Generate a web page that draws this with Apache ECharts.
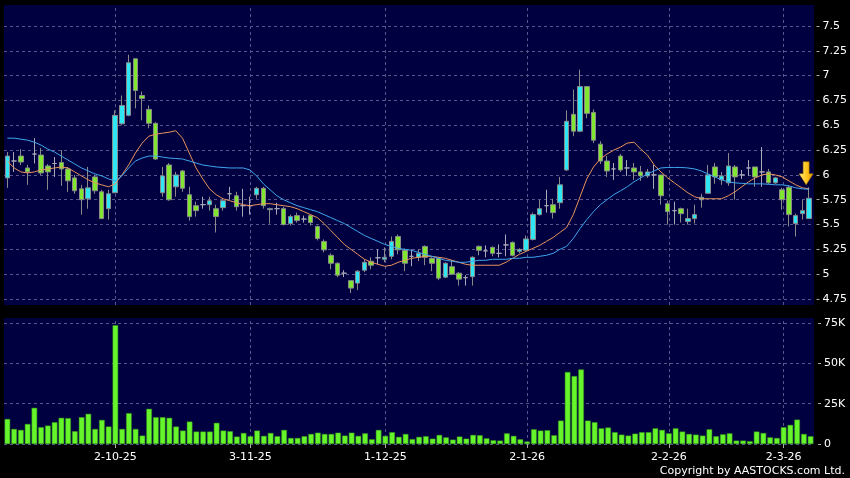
<!DOCTYPE html>
<html><head><meta charset="utf-8">
<script src="https://cdn.jsdelivr.net/npm/echarts@6/dist/echarts.min.js"></script>
<style>html,body{margin:0;padding:0;background:#000;}#c{width:850px;height:478px;}</style>
</head><body><div id="c"></div>
<script>
const dates = ['9-9-25','10-9-25','11-9-25','12-9-25','15-9-25','16-9-25','17-9-25','18-9-25','19-9-25','22-9-25','23-9-25','24-9-25','25-9-25','26-9-25','29-9-25','30-9-25',
'2-10-25','3-10-25','6-10-25','8-10-25','9-10-25','10-10-25','13-10-25','14-10-25','15-10-25','16-10-25','17-10-25','20-10-25','21-10-25','22-10-25','23-10-25','24-10-25','27-10-25','28-10-25','30-10-25','31-10-25',
'3-11-25','4-11-25','5-11-25','6-11-25','7-11-25','10-11-25','11-11-25','12-11-25','13-11-25','14-11-25','17-11-25','18-11-25','19-11-25','20-11-25','21-11-25','24-11-25','25-11-25','26-11-25','27-11-25','28-11-25',
'1-12-25','2-12-25','3-12-25','4-12-25','5-12-25','8-12-25','9-12-25','10-12-25','11-12-25','12-12-25','15-12-25','16-12-25','17-12-25','18-12-25','19-12-25','22-12-25','23-12-25','24-12-25','29-12-25','30-12-25','31-12-25',
'2-1-26','5-1-26','6-1-26','7-1-26','8-1-26','9-1-26','12-1-26','13-1-26','14-1-26','15-1-26','16-1-26','19-1-26','20-1-26','21-1-26','22-1-26','23-1-26','26-1-26','27-1-26','28-1-26','29-1-26','30-1-26',
'2-2-26','3-2-26','4-2-26','5-2-26','6-2-26','9-2-26','10-2-26','11-2-26','12-2-26','13-2-26','16-2-26','20-2-26','23-2-26','24-2-26','25-2-26','26-2-26','27-2-26',
'2-3-26','3-3-26','4-3-26','5-3-26','6-3-26'];

const open = [5.97,6.14,6.19,6.07,6.21,6.20,6.09,6.115,6.125,6.06,
 5.97,5.86,5.76,5.98,5.83,5.66,5.82,6.515,6.60,7.17,
 6.80,6.66,6.52,5.82,6.10,5.88,6.04,5.80,5.69,5.70,
 5.70,5.66,5.67,5.81,5.79,5.69,5.69,5.80,5.865,5.65,
 5.66,5.66,5.51,5.59,5.555,5.59,5.48,5.33,5.19,5.11,
 5.01,4.935,4.91,5.04,5.13,5.165,5.15,5.18,5.38,5.24,
 5.18,5.17,5.28,5.16,5.16,4.97,5.076,5.01,4.965,4.975,
 5.28,5.235,5.27,5.21,5.295,5.32,5.23,5.24,5.35,5.60,
 5.69,5.70,5.72,6.05,6.61,6.44,6.89,6.63,6.31,6.14,
 6.06,6.19,6.07,6.07,6.03,5.99,6.0,6.0,5.71,5.64,
 5.66,5.53,5.56,5.75,5.815,6.08,5.95,5.92,6.08,6.0,
 6.07,6.08,6.03,6.03,5.92,5.85,5.875,5.51,5.61,5.56];
const close = [6.19,6.14,6.13,6.03,6.21,6.02,6.03,6.115,6.06,5.94,
 5.84,5.75,5.87,5.84,5.56,5.81,6.60,6.70,7.13,6.85,
 6.77,6.52,6.16,5.99,5.75,6.00,5.865,5.58,5.64,5.70,
 5.74,5.58,5.74,5.81,5.68,5.69,5.69,5.865,5.69,5.66,
 5.66,5.50,5.58,5.54,5.555,5.52,5.36,5.245,5.11,4.99,
 5.01,4.86,5.03,5.12,5.09,5.165,5.17,5.33,5.245,5.11,
 5.18,5.21,5.17,5.11,4.96,5.11,5.00,4.95,4.965,5.17,
 5.24,5.235,5.21,5.21,5.295,5.19,5.25,5.355,5.60,5.66,
 5.69,5.62,5.90,6.54,6.44,6.89,6.62,6.35,6.14,6.04,
 6.06,6.05,6.07,6.03,5.99,6.03,6.0,5.79,5.63,5.64,
 5.61,5.56,5.60,5.775,6.0,5.98,5.99,6.09,5.98,6.0,
 6.07,5.98,6.03,5.92,5.97,5.75,5.60,5.59,5.64,5.765];
const low = [5.87,6.03,6.10,5.90,6.115,6.00,5.85,5.98,5.89,5.83,
 5.81,5.60,5.66,5.81,5.56,5.55,5.82,6.50,6.59,6.67,
 6.55,6.47,6.15,5.78,5.74,5.78,5.83,5.54,5.58,5.66,
 5.64,5.42,5.64,5.75,5.64,5.58,5.60,5.76,5.66,5.51,
 5.60,5.49,5.49,5.52,5.52,5.49,5.34,5.22,5.05,4.97,
 4.97,4.81,4.84,5.02,5.05,5.10,5.12,5.15,5.20,5.03,
 5.08,5.13,5.09,5.03,4.94,4.96,4.99,4.885,4.885,4.885,
 5.19,5.17,5.18,5.17,5.18,5.18,5.21,5.23,5.34,5.59,
 5.62,5.56,5.66,6.04,6.39,6.43,6.57,6.32,6.11,5.98,
 5.95,6.03,5.99,5.95,5.94,5.97,5.86,5.70,5.50,5.50,
 5.52,5.50,5.51,5.67,5.815,5.91,5.90,5.89,5.75,5.96,
 5.99,5.88,5.88,5.91,5.91,5.65,5.48,5.38,5.55,5.56];
const high = [6.23,6.23,6.26,6.10,6.37,6.27,6.11,6.18,6.25,6.08,
 6.00,5.90,6.08,6.00,5.85,5.85,6.65,6.80,7.21,7.17,
 6.84,6.70,6.53,6.08,6.12,6.03,6.05,5.88,5.73,5.78,
 5.78,5.70,5.76,5.88,5.83,5.86,5.78,5.88,5.88,5.67,
 5.72,5.68,5.60,5.62,5.59,5.60,5.49,5.35,5.21,5.12,
 5.04,4.94,5.04,5.15,5.17,5.25,5.27,5.38,5.40,5.26,
 5.25,5.25,5.29,5.17,5.17,5.12,5.14,5.02,4.99,5.18,
 5.29,5.29,5.28,5.30,5.40,5.33,5.26,5.39,5.62,5.75,
 5.85,5.76,5.98,6.65,6.86,7.06,6.89,6.66,6.34,6.19,
 6.12,6.21,6.15,6.12,6.09,6.06,6.10,6.0,5.74,5.73,
 5.67,5.66,5.70,5.81,6.10,6.12,6.03,6.22,6.10,6.05,
 6.15,6.08,6.28,6.06,5.98,5.87,5.89,5.61,5.75,5.875];
const volume = [15500,9300,8700,12400,22400,10400,11400,13500,16200,16000,
 7900,16600,18700,9300,14900,10800,73600,9300,19100,9300,
 5200,21800,16600,16600,16200,10800,8300,13900,7700,7700,
 7700,13100,8300,7900,4600,6800,4800,8300,5000,6800,
 4800,8700,3700,3700,4800,6200,7000,6200,6200,7000,
 5200,7000,5000,6600,2900,8700,5000,7300,4400,6200,
 3000,4400,4800,3300,5600,4100,2700,4600,3300,5600,
 5400,3500,2300,2100,6600,5000,2900,1500,9100,8300,
 8500,5400,14500,44600,42100,46200,14500,13500,9700,10200,
 7300,5800,5200,6400,7300,7300,9700,8700,6600,9700,
 7700,6200,5800,5200,9100,4800,6000,6600,2100,2100,
 1700,7700,6800,4100,3700,10400,11800,15100,6200,4800];
const ma10 = [6.14,6.07,6.03,6.02,6.03,6.05,6.06,6.07,6.08,6.07,
 6.03,5.99,5.95,5.92,5.90,5.88,5.91,6.00,6.10,6.22,
 6.32,6.39,6.41,6.42,6.43,6.445,6.37,6.22,6.07,5.96,
 5.86,5.80,5.76,5.74,5.72,5.70,5.69,5.70,5.71,5.71,
 5.70,5.69,5.68,5.66,5.63,5.60,5.57,5.51,5.44,5.37,
 5.30,5.25,5.20,5.15,5.12,5.10,5.08,5.09,5.12,5.14,
 5.16,5.17,5.18,5.18,5.17,5.16,5.14,5.12,5.10,5.09,
 5.09,5.09,5.09,5.09,5.12,5.16,5.20,5.23,5.26,5.29,
 5.33,5.37,5.42,5.47,5.60,5.78,5.96,6.08,6.16,6.21,
 6.25,6.28,6.32,6.33,6.26,6.20,6.10,6.03,5.97,5.92,
 5.87,5.82,5.78,5.76,5.76,5.76,5.76,5.79,5.83,5.88,
 5.93,5.97,6.00,6.01,6.00,5.98,5.94,5.90,5.87,5.86];
const ma20 = [6.37,6.37,6.36,6.35,6.33,6.30,6.26,6.23,6.19,6.15,
 6.11,6.07,6.04,6.01,5.99,5.96,5.94,5.99,6.07,6.14,
 6.17,6.19,6.19,6.18,6.17,6.165,6.16,6.14,6.12,6.10,
 6.09,6.08,6.075,6.07,6.07,6.07,6.05,5.99,5.91,5.85,
 5.79,5.75,5.72,5.69,5.67,5.65,5.63,5.60,5.57,5.54,
 5.51,5.47,5.43,5.39,5.36,5.33,5.30,5.28,5.26,5.25,
 5.24,5.22,5.20,5.18,5.16,5.14,5.13,5.12,5.12,5.13,
 5.14,5.14,5.15,5.15,5.15,5.16,5.16,5.17,5.17,5.18,
 5.19,5.21,5.25,5.28,5.36,5.46,5.55,5.63,5.70,5.75,
 5.80,5.84,5.88,5.93,5.97,6.01,6.04,6.07,6.075,6.075,
 6.075,6.07,6.06,6.04,6.01,5.98,5.95,5.93,5.92,5.915,
 5.91,5.91,5.91,5.905,5.90,5.90,5.89,5.87,5.86,5.855];
const tickLabels = ['2-10-25','3-11-25','1-12-25','2-1-26','2-2-26','2-3-26'];
const priceMin = 4.75, priceMax = 7.5, priceStep = 0.25;
const volMin = 0, volMax = 75000, volStep = 25000;

const NAVY = '#000040', GRID = '#56568a', FONT = 'DejaVu Sans';
const isTick = (i, v) => tickLabels.indexOf(v) >= 0;
const vLines = {
  silent: true, symbol: 'none', label: {show: false}, z: 1,
  lineStyle: {type: [3, 3], color: GRID, width: 1},
  data: tickLabels.map(t => ({xAxis: t}))
};
const L = 4, R = 36;
const chart = echarts.init(document.getElementById('c'), null, {renderer: 'canvas'});
chart.setOption({
  animation: false,
  backgroundColor: '#000',
  textStyle: {fontFamily: FONT},
  grid: [
    {left: L, right: R, top: 5, height: 300, show: true, backgroundColor: NAVY, borderWidth: 0, z: 0},
    {left: L, right: R, top: 26, height: 273},
    {left: L, right: R, top: 318, height: 126, show: true, backgroundColor: NAVY, borderWidth: 0, z: 0},
    {left: L, right: R, top: 323, height: 121}
  ],
  xAxis: [
    {type: 'category', gridIndex: 0, data: dates, show: false},
    {type: 'category', gridIndex: 1, data: dates, show: false},
    {type: 'category', gridIndex: 2, data: dates, axisLine: {show: false},
     axisTick: {show: true, alignWithLabel: true, interval: isTick, length: 4, lineStyle: {color: '#aaa'}},
     axisLabel: {interval: isTick, color: '#fff', fontSize: 11, margin: 8, fontFamily: FONT},
     splitLine: {show: false}},
    {type: 'category', gridIndex: 3, data: dates, show: false}
  ],
  yAxis: [
    {type: 'value', gridIndex: 0, min: 0, max: 1, show: false},
    {type: 'value', gridIndex: 1, position: 'right', offset: 4, min: priceMin, max: priceMax, interval: priceStep,
     axisLine: {show: false}, axisTick: {show: true, length: 3, lineStyle: {color: '#aaa'}},
     axisLabel: {color: '#fff', fontSize: 11, margin: 6, fontFamily: FONT},
     splitLine: {show: true, lineStyle: {type: [3, 3], color: GRID}}},
    {type: 'value', gridIndex: 2, min: 0, max: 1, show: false},
    {type: 'value', gridIndex: 3, position: 'right', offset: 4, min: volMin, max: volMax, interval: volStep,
     axisLine: {show: false}, axisTick: {show: true, length: 3, lineStyle: {color: '#aaa'}},
     axisLabel: {color: '#fff', fontSize: 11, margin: 6, fontFamily: FONT,
       formatter: v => v === 0 ? '0' : (v / 1000) + 'K'},
     splitLine: {show: true, lineStyle: {type: [3, 3], color: GRID}}}
  ],
  series: [
    {type: 'line', xAxisIndex: 0, yAxisIndex: 0, z: 1, data: dates.map(() => null), markLine: vLines, silent: true},
    {type: 'line', xAxisIndex: 2, yAxisIndex: 2, z: 1, data: dates.map(() => null), markLine: vLines, silent: true},
    {type: 'candlestick', xAxisIndex: 1, yAxisIndex: 1, barWidth: 5, z: 3,
     data: dates.map((d, i) => [open[i], close[i], low[i], high[i]]),
     itemStyle: {color: '#2fe6f4', color0: '#80e630', borderColor: '#8a8a8a', borderColor0: '#8a8a8a',
       borderColorDoji: '#a8a8b8', borderWidth: 1}},
    {type: 'line', xAxisIndex: 1, yAxisIndex: 1, data: ma10, symbol: 'none', z: 4,
     lineStyle: {color: '#e8945c', width: 1}},
    {type: 'line', xAxisIndex: 1, yAxisIndex: 1, data: ma20, symbol: 'none', z: 4,
     lineStyle: {color: '#3fa6ee', width: 1},
     markPoint: {silent: true, symbol: 'path://M4,0 L10,0 L10,12 L14,12 L7,23 L0,12 L4,12 Z',
       symbolSize: [14, 23], symbolOffset: [-3, -16], label: {show: false},
       itemStyle: {color: {type: 'linear', x: 0, y: 0, x2: 1, y2: 0,
         colorStops: [{offset: 0, color: '#fff08a'}, {offset: 0.5, color: '#ffc820'}, {offset: 1, color: '#e09a00'}]},
         borderColor: '#b07a00', borderWidth: 0.5},
       data: [{coord: [dates[dates.length - 1], ma20[ma20.length - 1]]}]}},
    {type: 'bar', xAxisIndex: 3, yAxisIndex: 3, z: 3, data: volume, barCategoryGap: '18%',
     itemStyle: {color: '#66f52a', borderColor: '#3a9e1a', borderWidth: 0.5}}
  ],
  graphic: [
    {type: 'text', right: 5, bottom: 1, style: {text: 'Copyright by AASTOCKS.com Ltd.', fill: '#fff', font: '11px "DejaVu Sans"'}}
  ]
});
</script></body></html>
